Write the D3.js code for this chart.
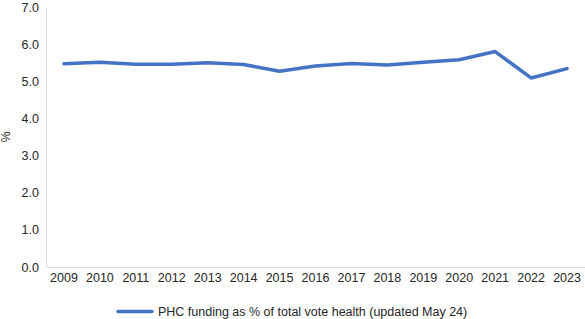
<!DOCTYPE html>
<html>
<head>
<meta charset="utf-8">
<script src="https://cdn.jsdelivr.net/npm/d3@7"></script>
<style>
  body { margin: 0; background: #fff; }
  text { font-family: "Liberation Sans", Arial, sans-serif; fill: #262626; }
</style>
</head>
<body>
<div id="chart"></div>
<script>
// data
var years = ["2009", "2010", "2011", "2012", "2013", "2014", "2015", "2016",
             "2017", "2018", "2019", "2020", "2021", "2022", "2023"];
var phcShare = [5.47, 5.51, 5.46, 5.46, 5.50, 5.45, 5.27, 5.41,
                5.48, 5.44, 5.51, 5.58, 5.80, 5.09, 5.34];
var yTicks = [0, 1, 2, 3, 4, 5, 6, 7];
var seriesName = "PHC funding as % of total vote health (updated May 24)";

var totalW = 585, totalH = 319;
var margin = {top: 7, right: 0, bottom: 52, left: 46};
var width = totalW - margin.left - margin.right,
    height = totalH - margin.top - margin.bottom;

var svg = d3.select("#chart")
    .append("svg")
    .attr("width", totalW)
    .attr("height", totalH)
    .append("g")
    .attr("transform", "translate(" + margin.left + "," + margin.top + ")");

var x = d3.scaleBand()
    .domain(years)
    .range([0, width]);

var y = d3.scaleLinear()
    .domain([0, 7])
    .range([height, 0]);

// y axis
var yAxis = svg.append("g")
    .call(d3.axisLeft(y).tickValues(yTicks).tickFormat(d3.format(".1f")).tickSize(0).tickPadding(7));
yAxis.select(".domain").attr("stroke", "#d9d9d9");
yAxis.selectAll("text").style("font-size", "12.5px").attr("fill", "#262626");

// x axis
var xAxis = svg.append("g")
    .attr("transform", "translate(0," + height + ")")
    .call(d3.axisBottom(x).tickSize(0).tickPadding(6));
xAxis.select(".domain").attr("stroke", "#d9d9d9");
xAxis.selectAll("text").style("font-size", "12.5px").attr("fill", "#262626");

// y label
svg.append("text")
    .attr("transform", "translate(" + (-36) + "," + (height / 2) + ") rotate(-90)")
    .attr("text-anchor", "middle")
    .style("font-size", "12.5px")
    .text("%");

// the line
var line = d3.line()
    .x(function(d, i) { return x(years[i]) + x.bandwidth() / 2; })
    .y(function(d) { return y(d); });

svg.append("path")
    .datum(phcShare)
    .attr("fill", "none")
    .attr("stroke", "#4472C4")
    .attr("stroke-width", 3.5)
    .attr("stroke-linejoin", "round")
    .attr("stroke-linecap", "round")
    .attr("d", line);

// legend
var legend = svg.append("g")
    .attr("transform", "translate(" + (118 - margin.left) + "," + (311.5 - margin.top) + ")");
legend.append("line")
    .attr("x1", 0).attr("x2", 34)
    .attr("stroke", "#4472C4")
    .attr("stroke-width", 3.5)
    .attr("stroke-linecap", "round");
legend.append("text")
    .attr("x", 40)
    .attr("dy", "0.35em")
    .style("font-size", "12.5px")
    .text(seriesName);
</script>
</body>
</html>
